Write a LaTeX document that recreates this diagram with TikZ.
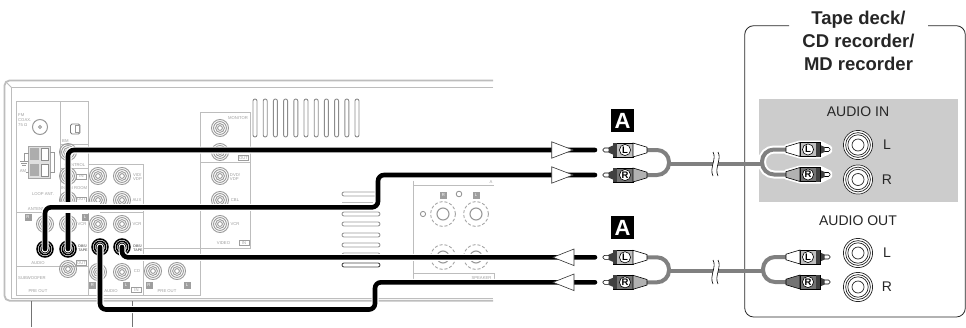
\documentclass[tikz,border=0pt]{standalone}
\usepackage{fontspec}
\setmainfont{Liberation Sans}
\newcommand{\tinyf}{\fontsize{4.2}{4.8}\selectfont}
\definecolor{chassis}{gray}{0.74}
\definecolor{lbl}{gray}{0.62}
\definecolor{panelgrey}{gray}{0.80}
\definecolor{wiregrey}{gray}{0.50}
\tikzset{
  frameline/.style={draw=chassis,line width=0.8pt},
  cablecore/.style={draw=black,line width=4.6pt,line cap=round,rounded corners=6pt},
  halo/.style={draw=white,line width=7pt,line cap=round,rounded corners=6pt},
  widehalo/.style={draw=white,line width=11pt,line cap=butt},
  greywire/.style={draw=wiregrey,line width=4pt,rounded corners=12pt},
  arrowtri/.style={draw=black!80,fill=white,line width=0.6pt,line join=miter},
  smalltxt/.style={text=lbl,font=\tinyf,inner sep=0pt,align=left},
  boxtxt/.style={text=white,fill=lbl,font=\tinyf,inner sep=0.6pt,minimum width=7pt,minimum height=7pt},
  opentxt/.style={text=lbl,draw=lbl,font=\tinyf,inner sep=0.5pt,minimum width=10pt,minimum height=5pt,line width=0.4pt},
  badge/.style={fill=black,text=white,font=\fontsize{22}{22}\selectfont\bfseries,minimum width=23pt,minimum height=22.5pt,inner sep=0pt},
  paneltxt/.style={font=\fontsize{14}{16}\selectfont,text=black!85,inner sep=0pt},
  pics/jack/.style={code={
    \foreach \r in {8.5,6.4,4.4,2.4}{\draw[#1,line width=0.9pt] (0,0) circle (\r);}
  }},
  pics/blackjack/.style={code={
    \fill[white] (0,0) circle (9);
    \foreach \r in {8,5.7,3.6}{\draw[black,line width=1.5pt] (0,0) circle (\r);}
  }},
  pics/bigjack/.style={code={
    \fill[white] (0,0) circle (15);
    \foreach \r in {14.6,12.4,10.2,6}{\draw[black!85,line width=0.7pt] (0,0) circle (\r);}
  }},
  pics/slotv/.style={code={\draw[#1,line width=0.9pt,rounded corners=2pt] (-2,0) rectangle (2,38);}},
  pics/sloth/.style={code={\draw[#1,line width=0.9pt,rounded corners=2pt] (0,-2) rectangle (38,2);}},
  pics/plughalo/.style={code={
    \draw[white,fill=white,line width=4pt,line join=round] (0,-2) -- (10,-7) -- (30,-7) -- (44,-3) -- (44,3) -- (30,7) -- (10,7) -- (0,2) -- cycle;
  }},
  pics/rca/.style n args={3}{code={
    \draw[black,fill=white,line width=0.6pt,rounded corners=1.5pt] (0,-2) rectangle (7,2);
    \fill[black!75] (5.5,-2.6) -- (10,-4.5) -- (10,4.5) -- (5.5,2.6) -- cycle;
    \draw[black,fill=#2,line width=0.6pt] (10,-7) rectangle (30,7);
    \fill[black!75] (10,-7) rectangle (14,7);
    \draw[black,fill=#3,line width=0.6pt] (30,-7) -- (44,-2.8) -- (44,2.8) -- (30,7) -- cycle;
    \draw[black,fill=white,line width=0.6pt] (22,0) circle (5.6);
    \node[inner sep=0pt,font=\fontsize{9.5}{9.5}\selectfont\bfseries,text=black] at (22,0) {#1};
  }},
  pics/wirebreak/.style={code={
    \fill[#1] (-2,-12) .. controls (2,-5) and (-6,4) .. (-2,12) -- (3,12) .. controls (-1,4) and (7,-5) .. (3,-12) -- cycle;
    \draw[black,line width=0.6pt] (-2,-12) .. controls (2,-5) and (-6,4) .. (-2,12);
    \draw[black,line width=0.6pt] (3,-12) .. controls (7,-5) and (-1,4) .. (3,12);
  }},
}
\begin{document}
\begin{tikzpicture}[x=1pt,y=-1pt]
\useasboundingbox (0,0) rectangle (966,327);
\fill[white] (0,0) rectangle (966,327);

% ---------- chassis ----------
\draw[chassis,line width=1.8pt,rounded corners=5pt] (493,80.5) -- (4.5,80.5) -- (4.5,300.7) -- (493,300.7);
\draw[frameline] (493,87.5) -- (11.5,87.5) -- (11.5,298) -- (493,298);
\draw[frameline] (6,82) -- (11.5,87.5);
\draw[black!55,line width=0.7pt] (31,301) -- (31,327);
\draw[black!55,line width=0.7pt] (132,301) -- (132,327);
\draw[frameline] (250,147.4) -- (494,147.4);

% panels
\draw[frameline] (16.5,101.5) rectangle (88.5,295);
\draw[frameline] (60,101.5) -- (60,212.7);
\draw[frameline] (60,144.3) -- (88.5,144.3);
\draw[frameline] (60,168.3) -- (88.5,168.3);
\draw[frameline] (16.5,212.7) -- (143.5,212.7);
\draw[frameline] (16.5,266.7) -- (88.5,266.7);
\draw[frameline] (88.5,164.5) -- (143.5,164.5) -- (143.5,295);
\draw[frameline] (88.5,295) -- (200,295) -- (200,112) -- (250,112) -- (250,248) -- (143.5,248);
\draw[frameline] (200,162.7) -- (250,162.7);

% vent slots
\foreach \i in {0,...,10}{\pic at ({255+10.2*\i},99) {slotv=black!45};}
\foreach \y in {194,214,224,235,245,255}{\pic at (342,\y) {sloth=black!40};}
\pic at (342,265) {sloth=black!70};
\draw[frameline] (342,202) -- (373,202);

% speaker panel
\draw[frameline] (413,180.7) -- (413,280);
\draw[frameline] (413,185.7) -- (494,185.7);
\draw[frameline] (413,273) -- (494,273) -- (494,280);
\foreach \px/\py in {443/214,476/214,443/257,476/257}{
  \draw[black!35,line width=0.9pt,densely dashed] (\px,\py) circle (12.5);
  \draw[black!40,line width=1.1pt] (\px,\py) circle (6);
}
\fill[black!40] (443,257) circle (3);
\fill[black!40] (476,257) circle (3);
\draw[black!45,line width=0.8pt] (423,214) circle (2.6);
\draw[black!45,line width=0.8pt] (423,257) circle (2.6);
\draw[black!45,line width=0.8pt] (459,194) circle (2.8);
\node[boxtxt] (spR) at (443.5,195) {R};
\node[boxtxt] (spL) at (476,195) {L};
\node[smalltxt] (spk) at (481.5,278) {SPEAKER};
\node[smalltxt] (spa) at (491,182.5) {A};

% FM jack, optical, terminals
\draw[black!40,line width=1pt] (40,127) circle (7.5);
\draw[black!40,line width=0.8pt] (40,127) circle (1.5);
\draw[black!50,line width=0.9pt,rounded corners=1.5pt] (70.5,124) rectangle (80,134);
\draw[black!40,line width=0.9pt] (75.5,125.5) rectangle (79,132.5);
\draw[black!35,line width=0.7pt,fill=black!12] (28.5,146) rectangle (50,178);
\fill[black!32] (29.5,147.5) rectangle (39,160);
\fill[black!32] (29.5,164) rectangle (39,176);
\draw[black!45,fill=white,line width=0.7pt] (41,148) rectangle (48,160);
\draw[black!45,fill=white,line width=0.7pt] (41,164) rectangle (48,176);
\draw[black!40,line width=0.6pt] (50,152) -- (54,152) -- (54,172) -- (50,172);
\draw[black!40,line width=0.6pt] (28.5,153) -- (24,153) -- (24,161) (20,161) -- (28,161) (21,163) -- (27,163) (22,165) -- (26,165);
\draw[black!40,line width=0.6pt] (26,172) -- (28.5,172);

% grey jacks
\foreach \jx/\jy in {68/152,68/176,98/176,122/176,68/200,98/200,122/200,45/224,68/224,98/224,122/224,98/272,122/272,68/269,153/271,177/271,220/128,220/152,220/176,220/200,220/224}{
  \pic at (\jx,\jy) {jack=black!40};
}

% small labels
\node[smalltxt,anchor=west] (t1) at (18,120) {FM\\COAX.\\75 Ω};
\node[smalltxt,anchor=west] (t2) at (62,141) {BM};
\node[smalltxt] (t3) at (75,164.7) {CONTROL};
\node[smalltxt] (t4) at (74,188) {IN \ \ IN ROOM};
\node[smalltxt] (t5) at (43,194) {LOOP ANT.};
\node[smalltxt] (t6) at (38,209.5) {ANTENNA};
\node[smalltxt] (t8) at (23,171.5) {AM};
\node[smalltxt] (t9) at (38,263) {AUDIO};
\node[smalltxt] (t10) at (32,278) {SUBWOOFER};
\node[smalltxt] (t11) at (38,291) {PRE OUT};
\node[smalltxt] (t12) at (82,224) {VCR};
\node[smalltxt,text=black!80,font=\fontsize{3.6}{4.2}\selectfont] (t13) at (83,248) {DBS/\\TAPE};
\node[smalltxt] (t14) at (137.5,177) {VID/\\VDP};
\node[smalltxt] (t15) at (137,200) {AUX};
\node[smalltxt] (t16) at (137,224) {VCR};
\node[smalltxt,text=black!80,font=\fontsize{3.6}{4.2}\selectfont] (t17) at (138,248) {DBS/\\TAPE};
\node[smalltxt] (t18) at (137,271) {CD};
\node[smalltxt] (t19) at (111,291) {AUDIO};
\node[smalltxt] (t20) at (167,291) {PRE OUT};
\node[smalltxt] (t21) at (238,118) {MONITOR};
\node[smalltxt] (t22) at (235,152) {VCR};
\node[smalltxt] (t23) at (235,177) {DVD/\\VDP};
\node[smalltxt] (t24) at (235,200) {CBL};
\node[smalltxt] (t25) at (235,224) {VCR};
\node[smalltxt] (t26) at (223.5,243) {VIDEO};
\node[boxtxt] (b1) at (28,217) {R};
\node[boxtxt] (b2) at (85,217) {L};
\node[boxtxt] (b3) at (92.5,285) {R};
\node[boxtxt] (b4) at (126,285) {L};
\node[boxtxt] (b5) at (149,285) {R};
\node[boxtxt] (b6) at (187,285) {L};
\node[opentxt] (o1) at (81.5,176.5) {IN};
\node[opentxt] (o2) at (81.5,199.5) {OUT};
\node[opentxt] (o3) at (81.5,263) {OUT};
\node[opentxt] (o4) at (136.5,290) {IN};
\node[opentxt] (o5) at (243.5,158) {OUT};
\node[opentxt] (o6) at (244,243) {IN};

% jacks where the cables end
\coordinate (jA) at (68,249);
\coordinate (jB) at (45,249);
\coordinate (jC) at (122,247);
\coordinate (jD) at (100,247);
\foreach \c in {jA,jB,jC,jD}{\pic at (\c) {blackjack};}

% cable ends
\coordinate (e1) at (595,150);
\coordinate (e2) at (595,175);
\coordinate (e3) at (595,257.3);
\coordinate (e4) at (595,282.3);
\coordinate (bend2a) at (378,207.3);
\coordinate (bend2b) at (378,175);
\coordinate (bend4a) at (375,309.5);
\coordinate (bend4b) at (375,282.3);

% black cables
\draw[halo] (jA) |- (e1);
\draw[cablecore] (jA) |- (e1);
\draw[widehalo] (45,207.3) -- (100,207.3);
\draw[halo] (jB) |- (bend2a) -- (bend2b) -- (e2);
\draw[cablecore] (jB) |- (bend2a) -- (bend2b) -- (e2);
\draw[halo] (jC) |- (e3);
\draw[cablecore] (jC) |- (e3);
\draw[halo] (jD) |- (bend4a) -- (bend4b) -- (e4);
\draw[cablecore] (jD) |- (bend4a) -- (bend4b) -- (e4);

% triangles
\draw[arrowtri] (551.7,141.8) -- (573,150) -- (551.7,158.2) -- cycle;
\draw[arrowtri] (551.7,166.8) -- (573,175) -- (551.7,183.2) -- cycle;
\draw[arrowtri] (574,249) -- (553,257.3) -- (574,265.6) -- cycle;
\draw[arrowtri] (574,274) -- (553,282.3) -- (574,290.6) -- cycle;

% badges
\node[badge] (badgeA1) at (622.5,120.5) {A};
\node[badge] (badgeA2) at (622.5,227.5) {A};

% external device
\draw[black!85,line width=0.8pt,rounded corners=9pt] (789,25.7) -- (744.7,25.7) -- (744.7,317) -- (965.3,317) -- (965.3,25.7) -- (928,25.7);
\node[align=center,font=\fontsize{18.5}{23}\selectfont\bfseries,text=black!85,inner sep=0pt] (dev) at (858.5,41) {Tape deck/\\CD recorder/\\MD recorder};
\fill[panelgrey] (759,98.5) rectangle (958,201.7);
\node[paneltxt] (ain) at (858,112) {AUDIO IN};
\node[paneltxt] (aout) at (858,220.5) {AUDIO OUT};
\node[paneltxt] (inL) at (887,145) {L};
\node[paneltxt] (inR) at (887,179.5) {R};
\node[paneltxt] (outL) at (887,253) {L};
\node[paneltxt] (outR) at (887,286.5) {R};
\pic at (858,145) {bigjack};
\pic at (858,179.5) {bigjack};
\pic at (858,253) {bigjack};
\pic at (858,287) {bigjack};

% plug ends
\coordinate (w1) at (647,150);
\coordinate (w2) at (647,175);
\coordinate (w3) at (647,257.3);
\coordinate (w4) at (647,282.3);
\coordinate (j1) at (669,163.5);
\coordinate (j2) at (762,163.5);
\coordinate (j3) at (669,271);
\coordinate (j4) at (763,271);
\coordinate (r1) at (786,149.5);
\coordinate (r2) at (786,174.5);
\coordinate (r3) at (786,257);
\coordinate (r4) at (786,282);

% white outline inside the grey panel
\pic[xscale=-1] at (830,149.5) {plughalo};
\pic[xscale=-1] at (830,174.5) {plughalo};
\draw[white,line width=8pt,rounded corners=12pt] (r1) -- (762,149.5) -- (762,174.5) -- (r2);
\fill[white] (759,160.5) rectangle (762,166.5);

% grey wires
\draw[greywire] (w1) -- (669,150) -- (669,175) -- (w2);
\draw[greywire] (w3) -- (669,257.3) -- (669,282.3) -- (w4);
\draw[greywire] (r1) -- (762,149.5) -- (762,174.5) -- (r2);
\draw[greywire] (r3) -- (763,257) -- (763,282) -- (r4);
\draw[wiregrey,line width=4pt] (j1) -- (j2);
\draw[wiregrey,line width=4pt] (j3) -- (j4);
\pic at (715,164) {wirebreak=white};
\pic at (715,272) {wirebreak=white};

% plugs
\pic at (603,150) {rca={L}{black!25}{white}};
\pic at (603,175) {rca={R}{black!55}{black!30}};
\pic at (603,257.3) {rca={L}{black!25}{white}};
\pic at (603,282.3) {rca={R}{black!55}{black!30}};
\pic[xscale=-1] at (830,149.5) {rca={L}{black!25}{white}};
\pic[xscale=-1] at (830,174.5) {rca={R}{black!55}{black!30}};
\pic[xscale=-1] at (830,257) {rca={L}{black!25}{white}};
\pic[xscale=-1] at (830,282) {rca={R}{black!55}{black!55}};
\end{tikzpicture}
\end{document}
